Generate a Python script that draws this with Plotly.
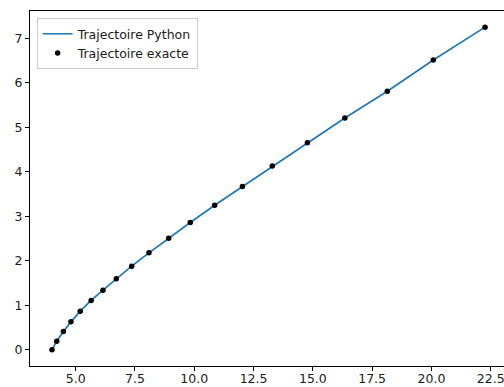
import plotly.graph_objects as go

# Trajectory samples (x, y)
x_exact = [4.00, 4.20, 4.48, 4.80, 5.19, 5.65, 6.15, 6.71, 7.36, 8.09,
           8.92, 9.83, 10.86, 12.03, 13.29, 14.77, 16.35, 18.14, 20.08, 22.26]
y_exact = [0.00, 0.195, 0.41, 0.63, 0.87, 1.11, 1.34, 1.60, 1.88, 2.18,
           2.51, 2.86, 3.25, 3.67, 4.13, 4.65, 5.21, 5.81, 6.51, 7.25]

x_python = x_exact
y_python = y_exact

x_ticks = [5.0, 7.5, 10.0, 12.5, 15.0, 17.5, 20.0, 22.5]
y_ticks = [0, 1, 2, 3, 4, 5, 6, 7]

font = dict(family="DejaVu Sans", size=12.5, color="#1a1a1a")

fig = go.Figure()
fig.add_trace(go.Scatter(
    x=x_python, y=y_python, mode="lines", name="Trajectoire Python",
    line=dict(color="#1f77b4", width=1.7),
))
fig.add_trace(go.Scatter(
    x=x_exact, y=y_exact, mode="markers", name="Trajectoire exacte",
    marker=dict(color="#000000", size=5.5),
))

axis_common = dict(
    showgrid=False, zeroline=False, showline=True, linecolor="#000000",
    linewidth=1, ticks="outside", tickwidth=1, tickcolor="#000000",
    tickfont=font, automargin=False, ticklabeloverflow="allow",
)

fig.update_layout(
    width=504, height=387,
    margin=dict(l=30, r=0, t=11, b=21),
    paper_bgcolor="white", plot_bgcolor="white",
    font=font,
    showlegend=True,
    legend=dict(
        x=0.014, y=0.98, xanchor="left", yanchor="top",
        bgcolor="rgba(255,255,255,0.8)", bordercolor="#cccccc", borderwidth=1,
        font=font, itemwidth=30, tracegroupgap=0,
    ),
    xaxis=dict(range=[3.073, 23.06], tickvals=x_ticks,
               ticktext=[f"{v:.1f}" for v in x_ticks], mirror=True,
               ticklen=4, ticklabelstandoff=-3, **axis_common),
    yaxis=dict(range=[-0.3625, 7.6125], tickvals=y_ticks,
               ticktext=[str(v) for v in y_ticks], mirror=False,
               ticklen=4, **axis_common),
)

fig.write_html("out.html")
